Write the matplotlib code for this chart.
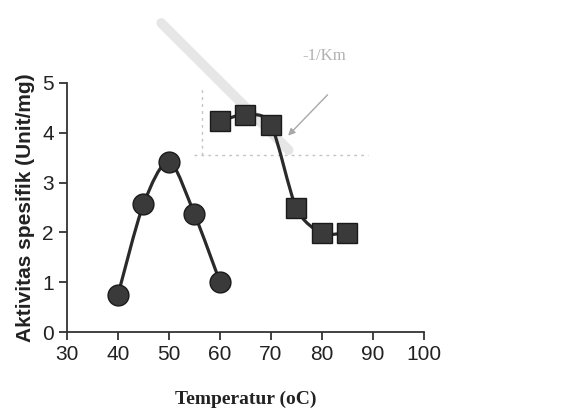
import numpy as np
import matplotlib.pyplot as plt
from matplotlib.path import Path
from matplotlib.patches import PathPatch

# data
suhu_a = [40, 45, 50, 55, 60]
aktivitas_a = [0.74, 2.56, 3.42, 2.37, 1.01]
suhu_b = [60, 65, 70, 75, 80, 85]
aktivitas_b = [4.23, 4.36, 4.16, 2.49, 1.99, 1.99]
xticks = [30, 40, 50, 60, 70, 80, 90, 100]
yticks = [0, 1, 2, 3, 4, 5]


def smooth_path(xs, ys):
    # Catmull-Rom style bezier through the points (like Excel smoothed line)
    pts = np.column_stack([xs, ys]).astype(float)
    verts = [pts[0]]
    codes = [Path.MOVETO]
    n = len(pts)
    for i in range(n - 1):
        p0 = pts[i - 1] if i > 0 else pts[i]
        p1 = pts[i]
        p2 = pts[i + 1]
        p3 = pts[i + 2] if i + 2 < n else pts[i + 1]
        c1 = p1 + (p2 - p0) / 7.0
        c2 = p2 - (p3 - p1) / 7.0
        verts += [c1, c2, p2]
        codes += [Path.CURVE4] * 3
    return Path(verts, codes)


fig = plt.figure(figsize=(5.87, 4.12), dpi=100)
ax = fig.add_axes([0.114, 0.194, 0.608, 0.605])

# faint show-through from the scanned page behind
ghost = '#c4c4c4'
ax.plot([56.5, 56.5], [3.55, 4.9], ls=(0, (2, 3)), color=ghost, lw=1, zorder=1)
ax.plot([55, 89], [3.55, 3.55], ls=(0, (2, 3)), color=ghost, lw=1, zorder=1)
ax.plot([48.5, 73.5], [6.2, 3.65], color='#c8c8c8', lw=7, alpha=0.45, zorder=1,
        clip_on=False, solid_capstyle='round')
ax.annotate('', xy=(73, 3.9), xytext=(81.5, 4.8),
            arrowprops=dict(arrowstyle='-|>', color='#a8a8a8', lw=1), zorder=1)
fig.text(0.515, 0.855, '-1/Km', family='Liberation Serif', fontsize=12,
         color='#b0b0b0')

for xs, ys, mk in [(suhu_a, aktivitas_a, 'o'), (suhu_b, aktivitas_b, 's')]:
    ax.add_patch(PathPatch(smooth_path(xs, ys), facecolor='none',
                           edgecolor='#2a2a2a', lw=2.3, zorder=2))
    ax.plot(xs, ys, linestyle='none', marker=mk, markersize=15 if mk == 'o' else 14,
            markerfacecolor='#3a3a3a', markeredgecolor='#1a1a1a', markeredgewidth=1,
            zorder=3)

ax.set_xlim(30, 100)
ax.set_ylim(0, 5)
ax.set_xticks(xticks)
ax.set_yticks(yticks)
for s in ['top', 'right']:
    ax.spines[s].set_visible(False)
for s in ['left', 'bottom']:
    ax.spines[s].set_linewidth(1.3)
    ax.spines[s].set_color('#333333')
ax.tick_params(labelsize=15, length=6, width=1.3, color='#333333',
               labelcolor='#222222')
for lab in ax.get_xticklabels() + ax.get_yticklabels():
    lab.set_family('Liberation Sans')

ax.set_ylabel('Aktivitas spesifik (Unit/mg)', family='Liberation Sans',
              fontweight='bold', fontsize=15, color='#222222', labelpad=5)
ax.set_xlabel('Temperatur (oC)', family='Liberation Serif', fontweight='bold',
              fontsize=14, color='#222222', labelpad=19)

plt.savefig('out.png', dpi=100)
